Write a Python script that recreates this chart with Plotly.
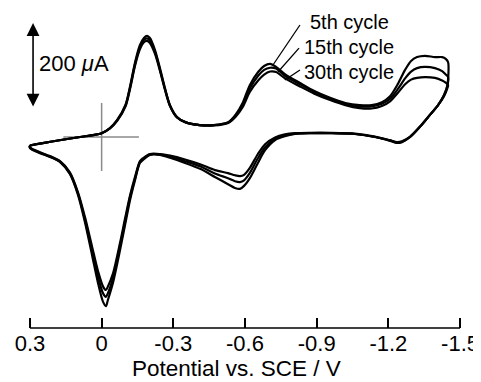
import plotly.graph_objects as go

# Potential (V vs. SCE) along the forward (upper) and reverse (lower) branches
E_upper = [0.30, 0.24, 0.17, 0.09, 0.03, 0.00, -0.035, -0.065, -0.10, -0.12, -0.14, -0.16,
           -0.177, -0.19, -0.202, -0.223, -0.244, -0.265, -0.286, -0.315, -0.35, -0.41, -0.47,
           -0.53, -0.56, -0.59, -0.62, -0.655, -0.68, -0.705, -0.73, -0.767, -0.83, -0.89,
           -0.956, -1.02, -1.08, -1.13, -1.173, -1.207, -1.24, -1.27, -1.295, -1.32, -1.353,
           -1.395, -1.425, -1.44, -1.45]
E_lower = [-1.447, -1.433, -1.408, -1.374, -1.332, -1.291, -1.257, -1.236, -1.207, -1.144,
           -1.06, -0.956, -0.872, -0.809, -0.767, -0.726, -0.684, -0.654, -0.621, -0.596,
           -0.579, -0.558, -0.529, -0.474, -0.412, -0.349, -0.286, -0.244, -0.202, -0.173,
           -0.16, -0.14, -0.119, -0.098, -0.077, -0.047, -0.026, -0.018, -0.006, 0.015, 0.04,
           0.07, 0.099, 0.133, 0.174, 0.216, 0.258, 0.30]

# Current (uA) for each cycle
I5_up = [-21, -14, -7, 0, 5, 9, 21, 40, 76, 122, 176, 216, 233, 238, 233, 205, 162, 115, 75, 47,
         35, 28, 28, 35, 52, 80, 122, 153, 167, 172, 165, 148, 127, 108, 92, 80, 75, 75, 82, 96,
         125, 158, 179, 188, 191, 188, 188, 184, 176]
I15_up = [-21, -14, -7, 0, 5, 9, 21, 39, 74, 119, 172, 211, 228, 232, 227, 200, 159, 113, 74, 47,
          35, 28, 28, 34, 50, 75, 114, 144, 158, 163, 161, 144, 124, 106, 90, 78, 72, 72, 78, 90,
          113, 138, 154, 162, 165, 162, 155, 147, 141]
I30_up = [-21, -14, -7, 0, 5, 9, 20, 38, 72, 116, 168, 206, 223, 226, 221, 196, 156, 111, 73, 46,
          35, 28, 27, 33, 47, 70, 106, 133, 147, 154, 153, 138, 119, 102, 87, 75, 68, 67, 73, 84,
          104, 124, 135, 139, 141, 139, 133, 128, 122]
I5_low = [122, 99, 75, 52, 24, 0, -12, -14, -9, 0, 7, 9, 9, 7, 2, -7, -31, -61, -96, -115, -122,
          -120, -111, -94, -75, -61, -49, -42, -42, -54, -61, -101, -148, -207, -266, -344, -384,
          -398, -388, -344, -278, -200, -136, -87, -59, -47, -38, -26]
I15_low = [120, 98, 75, 52, 24, 0, -11, -13, -8, 0, 7, 9, 9, 8, 4, -4, -24, -50, -84, -102, -106,
           -104, -97, -86, -69, -57, -46, -41, -41, -52, -59, -97, -142, -199, -257, -333, -368,
           -376, -368, -330, -268, -194, -133, -85, -58, -46, -37, -25]
I30_low = [115, 96, 75, 52, 24, 1, -10, -12, -8, 1, 8, 10, 10, 9, 6, -1, -17, -40, -72, -89, -92,
           -90, -85, -78, -64, -53, -44, -40, -40, -50, -57, -93, -137, -192, -249, -322, -352,
           -360, -352, -316, -258, -188, -130, -83, -57, -45, -36, -24]

cycle_names = ["5th cycle", "15th cycle", "30th cycle"]
tick_vals = [0.3, 0.0, -0.3, -0.6, -0.9, -1.2, -1.5]
tick_text = ["0.3", "0", "-0.3", "-0.6", "-0.9", "-1.2", "-1.5"]

FONT = "Liberation Sans, Arial, Helvetica, sans-serif"

fig = go.Figure()
for name, up, low in zip(cycle_names, [I5_up, I15_up, I30_up], [I5_low, I15_low, I30_low]):
    fig.add_trace(go.Scatter(
        x=E_upper + E_lower + [E_upper[0]],
        y=up + low + [up[0]],
        mode="lines", name=name,
        line=dict(color="black", width=2.2, shape="spline", smoothing=0.8),
        showlegend=False, hoverinfo="skip"))

# crosshair marking the origin (0 V, 0 uA)
fig.add_shape(type="line", x0=0, x1=0, y0=-80, y1=80, layer="below",
              line=dict(color="#8a8a8a", width=1.5))
fig.add_shape(type="line", x0=0.16, x1=-0.156, y0=0, y1=0, layer="below",
              line=dict(color="#8a8a8a", width=1.5))
# bottom axis line (from 0.3 to -1.5 V)
fig.add_shape(type="line", x0=0.3, x1=-1.5, y0=0, y1=0, xref="x", yref="paper",
              line=dict(color="black", width=1.5))

# scale bar: 200 uA
fig.add_annotation(x=0.287, y=268, ax=0.287, ay=68, axref="x", ayref="y", xref="x", yref="y",
                   text="", showarrow=True, arrowside="end+start", arrowhead=2,
                   arrowsize=1.6, arrowwidth=1.6, arrowcolor="black", standoff=0, startstandoff=0)
fig.add_annotation(x=0.271, y=174, xref="x", yref="y", text="200 <i>μ</i>A", showarrow=False,
                   xanchor="left", yanchor="middle", font=dict(size=22, color="black", family=FONT))

# cycle labels with leader lines
label_pos = [(-0.864, 270.6), (-0.839, 211.8), (-0.839, 152.9)]
leaders = [((-0.830, 263.5), (-0.717, 169.4)),
           ((-0.826, 209.0), (-0.738, 152.9)),
           ((-0.830, 157.6), (-0.767, 134.0))]
for name, (lx, ly), ((x0, y0), (x1, y1)) in zip(cycle_names, label_pos, leaders):
    fig.add_annotation(x=lx, y=ly, xref="x", yref="y", text=name, showarrow=False,
                       xanchor="left", yanchor="middle", font=dict(size=20, color="black", family=FONT))
    fig.add_shape(type="line", x0=x0, y0=y0, x1=x1, y1=y1, line=dict(color="black", width=1.3))

# x-axis title
fig.add_annotation(x=0.481, y=-0.128, xref="paper", yref="paper", text="Potential vs. SCE / V",
                   showarrow=False, xanchor="center", yanchor="middle",
                   font=dict(size=22.5, color="black", family=FONT))

# the page body has an 8 px margin, so the figure is 8 px smaller and shifted accordingly
fig.update_layout(
    width=473, height=374,
    margin=dict(l=10, r=9, t=2, b=54),
    paper_bgcolor="white", plot_bgcolor="white",
    font=dict(family=FONT, color="black"),
    xaxis=dict(range=[0.35, -1.55], tickvals=tick_vals, ticktext=tick_text,
               ticks="inside", ticklen=10, tickwidth=1.5, tickcolor="black",
               showgrid=False, zeroline=False, showline=False,
               tickfont=dict(size=22, color="black", family=FONT)),
    yaxis=dict(range=[-449.4, 298.8], visible=False, showgrid=False, zeroline=False),
)

fig.write_html("out.html")
